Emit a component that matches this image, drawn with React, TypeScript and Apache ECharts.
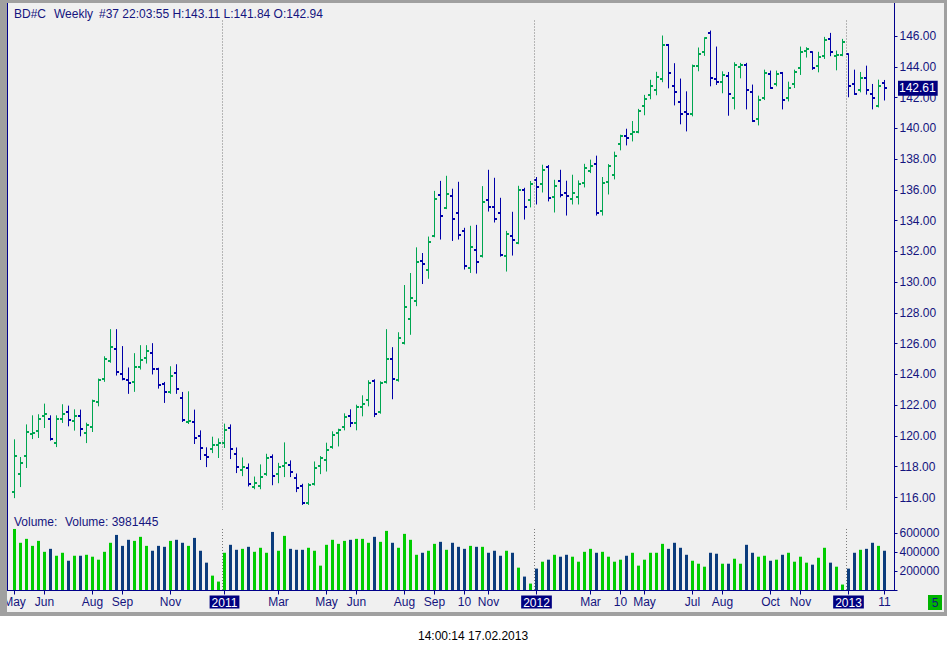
import React, { useEffect, useRef } from "react";
import * as echarts from "echarts";

// ---- data (weekly bars, BD#C, May 2010 – Feb 2013) ----
const opens = [
  116.34, 117.51, 118.68, 120.12, 120.31, 121.29, 121.09, 119.53, 121.09, 121.55,
  120.96, 121.29, 120.18, 120.57, 122.20, 123.70, 124.87, 125.65, 124.03, 123.63,
  123.50, 124.48, 125.07, 125.39, 124.35, 123.37, 122.85, 124.09, 122.46, 120.90,
  120.90, 119.99, 118.75, 119.14, 119.40, 119.53, 120.53, 118.81, 117.77, 117.90,
  116.66, 116.73, 117.51, 118.64, 117.51, 118.03, 118.09, 117.25, 116.75, 115.62,
  116.86, 118.03, 118.42, 119.27, 120.18, 120.57, 121.29, 120.83, 121.87, 122.33,
  123.57, 121.55, 123.50, 125.00, 123.63, 126.04, 127.61, 128.78, 131.38, 130.80,
  133.01, 135.68, 134.84, 135.62, 134.52, 133.34, 130.93, 132.11, 131.71, 135.36,
  134.91, 134.52, 131.71, 133.02, 132.56, 136.01, 135.36, 136.67, 136.41, 137.51,
  135.56, 136.60, 135.82, 135.43, 135.56, 136.47, 137.25, 137.71, 134.65, 136.54,
  136.99, 138.95, 139.47, 139.66, 139.79, 141.42, 142.14, 142.46, 143.18, 145.41,
  142.72, 141.70, 141.05, 140.96, 144.04, 144.96, 146.17, 143.20, 143.04, 143.37,
  141.94, 143.96, 144.13, 142.33, 140.63, 142.00, 143.50, 142.85, 143.57, 142.00,
  142.85, 143.89, 145.02, 144.93, 144.04, 144.67, 145.78, 144.67, 144.76, 144.80,
  142.91, 142.46, 143.24, 142.20, 141.48, 142.94,
];
const highs = [
  119.75, 118.60, 120.72, 121.31, 121.38, 122.07, 121.31, 121.31, 122.03, 121.94,
  121.70, 121.68, 120.83, 122.33, 123.70, 125.15, 126.91, 126.91, 125.81, 124.42,
  125.35, 125.87, 125.87, 126.00, 124.40, 123.48, 124.50, 124.63, 122.83, 122.87,
  121.68, 120.33, 119.23, 119.92, 119.81, 120.77, 120.72, 119.22, 118.57, 118.18,
  117.33, 118.12, 118.81, 118.77, 118.22, 119.55, 118.38, 117.53, 116.86, 116.90,
  118.31, 118.66, 119.53, 120.27, 120.44, 121.44, 121.70, 122.00, 122.61, 123.59,
  123.65, 123.52, 126.91, 125.74, 126.71, 129.78, 130.56, 132.23, 131.86, 132.93,
  135.90, 136.55, 136.88, 136.04, 136.49, 133.50, 133.63, 133.69, 136.21, 137.27,
  136.75, 135.45, 133.30, 134.54, 136.23, 136.10, 136.54, 136.80, 137.60, 137.58,
  136.62, 137.27, 136.56, 136.95, 136.58, 137.66, 137.93, 138.19, 136.80, 137.64,
  138.45, 139.55, 139.94, 140.44, 141.23, 142.14, 143.12, 143.64, 146.00, 145.45,
  144.20, 143.20, 142.37, 144.11, 145.22, 145.89, 146.32, 145.28, 143.67, 143.63,
  144.26, 144.22, 144.22, 142.81, 142.09, 143.78, 143.72, 143.72, 143.63, 143.00,
  143.78, 145.28, 145.24, 144.98, 144.94, 145.91, 146.17, 145.02, 145.78, 144.85,
  143.78, 143.63, 144.04, 142.85, 143.13, 143.11,
];
const lows = [
  115.99, 116.71, 117.95, 119.83, 119.90, 120.55, 119.73, 119.31, 120.88, 120.66,
  120.38, 120.01, 119.57, 120.29, 121.96, 123.55, 124.79, 123.96, 123.65, 122.77,
  122.90, 124.35, 124.74, 124.03, 123.11, 122.18, 122.77, 122.77, 120.94, 120.81,
  119.51, 118.47, 118.01, 118.92, 118.60, 119.25, 118.53, 117.62, 117.42, 116.75,
  116.57, 116.57, 117.44, 116.83, 116.96, 117.36, 117.36, 116.38, 115.55, 115.55,
  116.81, 117.55, 117.72, 119.20, 119.35, 120.40, 120.61, 120.40, 121.31, 121.96,
  121.26, 121.48, 123.44, 122.42, 123.56, 125.98, 126.61, 128.47, 129.91, 130.25,
  132.95, 132.80, 134.78, 132.71, 132.80, 130.85, 130.63, 130.59, 131.63, 134.62,
  133.91, 131.69, 130.72, 131.76, 132.50, 134.10, 134.89, 135.08, 135.86, 135.28,
  134.56, 135.54, 134.36, 135.08, 135.08, 136.19, 137.12, 134.36, 134.36, 135.73,
  136.71, 138.60, 138.92, 139.18, 139.71, 140.88, 141.92, 142.18, 143.03, 142.63,
  141.52, 140.29, 139.83, 140.81, 143.74, 144.74, 142.76, 142.85, 142.31, 140.85,
  141.26, 143.28, 141.26, 140.44, 140.22, 141.87, 142.59, 142.76, 141.26, 141.78,
  142.65, 143.50, 144.63, 143.83, 143.67, 144.54, 144.72, 143.80, 144.72, 142.05,
  142.20, 142.37, 142.22, 141.26, 141.39, 141.84,
];
const closes = [
  118.68, 118.23, 120.25, 120.18, 121.09, 121.42, 119.79, 121.09, 121.42, 121.03,
  121.29, 120.44, 120.70, 122.27, 123.63, 125.00, 125.78, 124.16, 123.72, 123.44,
  124.48, 124.94, 125.52, 124.35, 123.31, 122.85, 123.90, 123.05, 121.03, 120.96,
  119.86, 119.20, 118.62, 119.40, 119.53, 120.38, 119.14, 117.96, 117.96, 116.86,
  116.96, 117.31, 118.57, 117.38, 117.99, 118.22, 117.64, 116.60, 115.62, 116.81,
  117.90, 118.55, 119.07, 120.05, 120.37, 121.22, 120.83, 121.87, 122.07, 123.44,
  121.42, 123.44, 125.00, 123.70, 126.37, 128.39, 128.97, 131.32, 131.19, 132.62,
  135.42, 134.32, 135.75, 134.12, 133.08, 131.06, 132.30, 131.32, 135.23, 134.91,
  134.12, 131.78, 133.15, 132.76, 135.97, 134.91, 136.41, 136.21, 137.32, 135.49,
  136.27, 135.69, 135.62, 135.82, 136.41, 137.45, 137.58, 134.52, 136.47, 137.58,
  138.23, 139.47, 139.40, 139.79, 141.10, 141.88, 142.72, 143.31, 145.40, 143.57,
  142.35, 140.96, 140.90, 144.04, 144.83, 145.85, 143.30, 143.04, 143.44, 142.20,
  144.09, 144.09, 142.46, 140.50, 141.81, 143.57, 142.65, 143.50, 141.87, 142.65,
  143.63, 144.93, 145.15, 143.89, 144.63, 145.76, 144.93, 144.76, 145.59, 142.72,
  142.26, 143.30, 142.46, 142.00, 142.78, 142.61,
];
const volumes = [
  641000, 497000, 538000, 465000, 517000, 403000, 434000, 362000, 393000, 310000,
  362000, 362000, 372000, 352000, 321000, 403000, 497000, 579000, 465000, 528000,
  517000, 559000, 465000, 414000, 465000, 455000, 517000, 528000, 497000, 465000,
  548000, 414000, 290000, 155000, 93000, 393000, 476000, 424000, 434000, 455000,
  403000, 445000, 393000, 610000, 414000, 569000, 434000, 424000, 424000, 445000,
  414000, 259000, 476000, 528000, 486000, 517000, 528000, 538000, 538000, 497000,
  559000, 507000, 621000, 497000, 445000, 590000, 528000, 372000, 393000, 414000,
  486000, 507000, 424000, 497000, 455000, 434000, 465000, 455000, 455000, 393000,
  414000, 362000, 414000, 393000, 238000, 145000, 72000, 228000, 300000, 321000,
  372000, 352000, 372000, 352000, 300000, 403000, 434000, 393000, 403000, 352000,
  300000, 321000, 362000, 393000, 259000, 321000, 393000, 393000, 486000, 434000,
  497000, 445000, 372000, 310000, 279000, 248000, 393000, 383000, 279000, 279000,
  331000, 279000, 476000, 393000, 352000, 362000, 310000, 321000, 372000, 393000,
  300000, 352000, 290000, 269000, 341000, 445000, 290000, 248000, 62000, 228000,
  393000, 424000, 434000, 497000, 465000, 414000,
];

// x-axis tick labels (index of weekly bar -> text)
const tickIndex = [0, 5, 13, 18, 26, 35, 44, 52, 57, 65, 70, 75, 79, 87, 96, 101, 105, 113, 118, 126, 131, 139, 145];
const tickText = ["May", "Jun", "Aug", "Sep", "Nov", "2011", "Mar", "May", "Jun", "Aug", "Sep", "10", "Nov", "2012", "Mar", "10", "May", "Jul", "Aug", "Oct", "Nov", "2013", "11"];
const yearStartIndex = [35, 87, 139];

const priceMin = 116;
const priceMax = 146;
const priceStep = 2;
const volMin = 0;
const volMax = 600000;
const volStep = 200000;

const headerParts = ["BD#C", "Weekly", "#37 22:03:55 H:143.11 L:141.84 O:142.94"];
const volumeTitle = "Volume:";
const volumeText = "Volume: 3981445";
const footerText = "14:00:14 17.02.2013";
const cornerText = "5";

// categories: week start dates
const startMs = Date.UTC(2010, 4, 3);
const categories = opens.map((_, i) => new Date(startMs + i * 7 * 86400000).toISOString().slice(0, 10));

const FONT = '"Liberation Sans", Arial, sans-serif';
const NAVY = "#00008b";
const TEXT_NAVY = "#14147e";
const UP = "#00a651";
const DOWN = "#0000a8";
const VOL_UP = "#00cc00";
const VOL_DOWN = "#0b3c7c";

export default function App() {
  const ref = useRef<HTMLDivElement>(null);

  useEffect(() => {
    const el = ref.current;
    if (!el) return;
    const chart = echarts.init(el, null, { renderer: "svg", width: 952, height: 652 });

    const tickSet = new Set(tickIndex);
    const tickMap: Record<number, string> = {};
    tickIndex.forEach((idx, k) => (tickMap[idx] = tickText[k]));
    const showTick = (index: number) => tickSet.has(index);

    const ohlc = opens.map((o, i) => [i, o, highs[i], lows[i], closes[i]]);

    const option: any = {
      animation: false,
      textStyle: { fontFamily: FONT },
      grid: [
        { left: 11.5, width: 876, top: 36, height: 461.5, containLabel: false },
        { left: 11.5, width: 876, top: 532.9, height: 57.6, containLabel: false },
      ],
      xAxis: [
        { type: "category", gridIndex: 0, data: categories, show: false, boundaryGap: true },
        {
          type: "category",
          gridIndex: 1,
          data: categories,
          boundaryGap: true,
          axisLine: { show: false },
          axisTick: { show: true, alignWithLabel: true, interval: showTick, length: 4, lineStyle: { color: NAVY, width: 1 } },
          axisLabel: {
            interval: showTick,
            margin: 5,
            color: TEXT_NAVY,
            fontSize: 12,
            fontFamily: FONT,
            formatter: (_v: string, index: number) => {
              const t = tickMap[index] ?? "";
              return /^\d{4}$/.test(t) ? `{yr|${t}}` : t;
            },
            rich: {
              yr: { color: "#ffffff", backgroundColor: "#000080", padding: [1, 2, 0, 2], fontSize: 12, fontFamily: FONT },
            },
          },
          splitLine: { show: false },
        },
      ],
      yAxis: [
        {
          type: "value",
          gridIndex: 0,
          position: "right",
          offset: 7,
          min: priceMin,
          max: priceMax,
          interval: priceStep,
          axisLine: { show: false },
          axisTick: { show: true, length: 3, lineStyle: { color: NAVY } },
          axisLabel: { margin: 5, color: TEXT_NAVY, fontSize: 12, fontFamily: FONT, formatter: (v: number) => v.toFixed(2) },
          splitLine: { show: false },
        },
        {
          type: "value",
          gridIndex: 1,
          position: "right",
          offset: 7,
          min: volMin,
          max: volMax,
          interval: volStep,
          axisLine: { show: false },
          axisTick: { show: true, length: 3, lineStyle: { color: NAVY } },
          axisLabel: { margin: 5, color: TEXT_NAVY, fontSize: 12, fontFamily: FONT, formatter: (v: number) => (v === 0 ? "" : String(v)) },
          splitLine: { show: false },
        },
      ],
      series: [
        {
          type: "custom",
          xAxisIndex: 0,
          yAxisIndex: 0,
          clip: false,
          encode: { x: 0, y: [1, 2, 3, 4] },
          data: ohlc,
          renderItem: (params: any, api: any) => {
            const i = api.value(0);
            const o = api.value(1);
            const h = api.value(2);
            const l = api.value(3);
            const c = api.value(4);
            const po = api.coord([i, o]);
            const ph = api.coord([i, h]);
            const pl = api.coord([i, l]);
            const pc = api.coord([i, c]);
            const x = Math.round(po[0] - 0.5) + 0.5;
            const color = c >= o ? UP : DOWN;
            return {
              type: "group",
              children: [
                { type: "line", shape: { x1: x, y1: ph[1] - 0.5, x2: x, y2: pl[1] + 0.5 }, style: { stroke: color, lineWidth: 1 } },
                { type: "rect", shape: { x: x - 2.5, y: Math.round(po[1]) - 1, width: 2, height: 2 }, style: { fill: color } },
                { type: "rect", shape: { x: x + 0.5, y: Math.round(pc[1]) - 1, width: 2, height: 2 }, style: { fill: color } },
              ],
            };
          },
        },
        {
          type: "custom",
          xAxisIndex: 0,
          yAxisIndex: 0,
          clip: false,
          encode: { x: 0, y: 1 },
          data: yearStartIndex.map((i) => [i, priceMin]),
          renderItem: (params: any, api: any) => {
            const p = api.coord([api.value(0), api.value(1)]);
            const x = Math.round(p[0] - 0.5) + 0.5 - 2;
            const cs = params.coordSys;
            const bottom = cs.y + cs.height;
            const st = { stroke: "#7a7a7a", lineWidth: 1, lineDash: [1, 2] };
            return {
              type: "group",
              children: [
                { type: "line", shape: { x1: x, y1: cs.y - 15.5, x2: x, y2: bottom + 12.5 }, style: st },
                { type: "line", shape: { x1: x, y1: bottom + 31.5, x2: x, y2: bottom + 93 }, style: st },
              ],
            };
          },
        },
        {
          type: "bar",
          xAxisIndex: 1,
          yAxisIndex: 1,
          clip: false,
          barWidth: 3,
          data: volumes.map((v, i) => ({ value: v, itemStyle: { color: closes[i] >= opens[i] ? VOL_UP : VOL_DOWN } })),
        },
      ],
    };

    chart.setOption(option);

    const lastClose = closes[closes.length - 1];
    const lastY = chart.convertToPixel({ yAxisIndex: 0 } as any, lastClose) as unknown as number;

    const txt = (text: string, x: number, y: number, fill: string, extra: any = {}) => ({
      type: "text",
      x,
      y,
      z: 50,
      style: {
        text,
        fill,
        font: `12px ${FONT}`,
        textAlign: "left",
        textVerticalAlign: "middle",
        align: "left",
        verticalAlign: "middle",
        ...extra,
      },
    });

    chart.setOption({
      graphic: [
        { type: "line", z: 40, shape: { x1: 7.5, y1: 3, x2: 7.5, y2: 591 }, style: { stroke: NAVY, lineWidth: 1 } },
        { type: "line", z: 40, shape: { x1: 894.5, y1: 3, x2: 894.5, y2: 591 }, style: { stroke: NAVY, lineWidth: 1 } },
        { type: "line", z: 40, shape: { x1: 7, y1: 590.5, x2: 895, y2: 590.5 }, style: { stroke: NAVY, lineWidth: 1 } },
        txt(headerParts[0], 14, 13.5, TEXT_NAVY),
        txt(headerParts[1], 54, 13.5, TEXT_NAVY),
        txt(headerParts[2], 99, 13.5, TEXT_NAVY),
        txt(volumeTitle, 14, 521.7, TEXT_NAVY),
        txt(volumeText, 65, 521.7, TEXT_NAVY),
        txt(footerText, 418, 635.5, "#000000"),
        {
          type: "text",
          x: 898,
          y: lastY,
          z: 100,
          style: {
            text: lastClose.toFixed(2),
            fill: "#ffffff",
            font: `12px ${FONT}`,
            backgroundColor: "#000080",
            padding: [2, 2, 1, 1],
            textAlign: "left",
            textVerticalAlign: "middle",
            align: "left",
            verticalAlign: "middle",
          },
        },
        { type: "rect", z: 60, shape: { x: 928, y: 595, width: 14, height: 15 }, style: { fill: "#00b400" } },
        {
          type: "text",
          x: 935,
          y: 602.5,
          z: 61,
          style: {
            text: cornerText,
            fill: TEXT_NAVY,
            font: `12px ${FONT}`,
            textAlign: "center",
            textVerticalAlign: "middle",
            align: "center",
            verticalAlign: "middle",
          },
        },
      ],
    });

    return () => chart.dispose();
  }, []);

  return (
    <div style={{ position: "absolute", left: 0, top: 0, width: 952, height: 652, background: "#ffffff", overflow: "hidden" }}>
      <div style={{ position: "absolute", left: 0, top: 0, width: 947, height: 616, background: "#a0a0a0" }} />
      <div style={{ position: "absolute", left: 7, top: 3, width: 937, height: 609, background: "#f0f0f0" }} />
      <div ref={ref} style={{ position: "absolute", left: 0, top: 0, width: 952, height: 652 }} />
      <div style={{ position: "absolute", left: 0, top: 0, width: 7, height: 616, background: "#a0a0a0", pointerEvents: "none" }} />
    </div>
  );
}
